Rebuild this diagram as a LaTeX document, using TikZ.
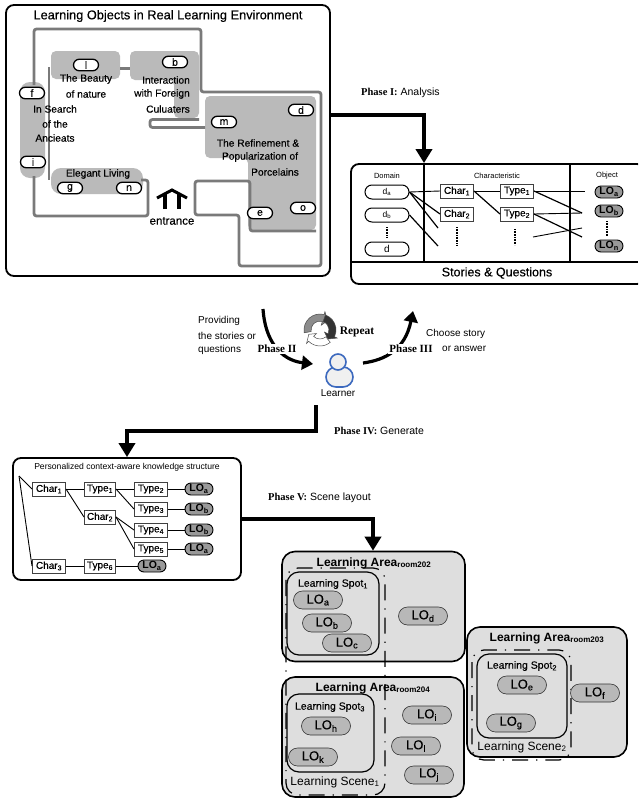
\documentclass[tikz,border=0pt]{standalone}
\usepackage{fontspec}
\setmainfont{Liberation Sans}
\newfontfamily\phfont{Liberation Serif}
\newfontfamily\hvf[FakeBold=0.35]{Liberation Sans}
\usetikzlibrary{arrows.meta,shapes.misc,calc}
\newcommand{\sbs}[1]{\textsubscript{#1}}
\newcommand{\fsz}[1]{\fontsize{#1}{#1}\selectfont}
\definecolor{lrnblue}{RGB}{60,105,190}
\tikzset{
 panel/.style={draw=black,line width=1.8pt,fill=white,rounded corners=8pt,inner sep=0pt},
 wall/.style={draw=black!52,line width=2.8pt,rounded corners=2.5pt},
 zone/.style={fill=black!27,rounded corners=5pt},
 tag/.style={rounded rectangle,draw=black,line width=1.3pt,fill=white,minimum width=25pt,minimum height=11.5pt,inner sep=0pt,font=\hvf\fsz{10.5}},
 lbl/.style={inner sep=0pt,font=\hvf\fsz{10.2}},
 dpill/.style={rounded rectangle,draw=black,line width=1pt,fill=white,minimum width=44pt,minimum height=14pt,inner sep=0pt,font=\fsz{8.5}},
 cbox/.style={draw=black!75,line width=1pt,fill=white,minimum width=33pt,minimum height=14pt,inner sep=0pt,font=\hvf\fsz{10}},
 lopill/.style={rounded rectangle,draw=black,line width=.9pt,fill=black!40,minimum width=28pt,minimum height=12pt,inner sep=0pt,font=\bfseries\fsz{10.5}},
 wire/.style={draw=black,line width=.9pt},
 fat/.style={draw=black,line width=3.8pt,-{Triangle[length=14pt,width=16pt]}},
 area/.style={draw=black,line width=1.6pt,fill=black!13,rounded corners=13pt},
 spot/.style={draw=black,line width=1.2pt,rounded corners=12pt},
 scene/.style={draw=black,line width=1.2pt,rounded corners=12pt,dash pattern=on 16pt off 8pt on 1.2pt off 8pt},
 lo/.style={rounded rectangle,draw=black!80,line width=.6pt,fill=black!28,minimum width=49pt,minimum height=18pt,inner sep=0pt,font=\hvf\fsz{13}},
 phase/.style={inner sep=0pt,anchor=west,font=\fsz{10.5}},
 small/.style={inner sep=0pt,font=\fsz{10}},
 dots/.style={draw=black,line width=1.3pt,dash pattern=on .8pt off .8pt},
}
\begin{document}
\begin{tikzpicture}[x=1pt,y=1pt,yscale=-1]
\useasboundingbox (0,0) rectangle (638,798);
\clip (0,0) rectangle (638,798);
\fill[white] (0,0) rectangle (638,798);

% ---- top panel
\node[panel,minimum width=324pt,minimum height=271pt] (topp) at (168,140.5) {};
\node[inner sep=0pt,font=\hvf\fsz{12.8}] (title) at (168,16) {Learning Objects in Real Learning Environment};
\fill[zone] (51,51) rectangle (120,79);
\fill[zone] (130,51) -- (199,51) -- (199,118) -- (174,118) -- (174,80) -- (130,80) -- cycle;
\fill[zone] (205,96) -- (316,96) -- (316,230) -- (248,230) -- (248,158) -- (205,158) -- cycle;
\fill[zone,rounded corners=10pt] (20,82) rectangle (45,178);
\fill[zone,rounded corners=10pt] (51,168) rectangle (143,194);
\draw[wall] (34,85) -- (34,29) -- (201,29) -- (201,92) -- (321,92) -- (321,266) -- (239,266) -- (239,215) -- (195,215) -- (195,181) -- (250,181) -- (250,231) -- (316,231);
\draw[wall] (34,176) -- (34,216) -- (148,216) -- (148,180) -- (141,180);
\draw[wall] (120,68.5) -- (130,68.5);
\draw[wall,rounded corners=0pt,line width=2.2pt] (49,67) -- (49,180);
\draw[wall] (199,119.5) -- (150,119.5) -- (150,127.5) -- (205,127.5);
\node[tag] (tl) at (86,65) {l};
\node[tag] (tb) at (175,62) {b};
\node[tag] (tf) at (32,93) {f};
\node[tag] (ti) at (33,162) {i};
\node[tag] (tm) at (224,122) {m};
\node[tag] (td) at (301,110) {d};
\node[tag] (to) at (303,208) {o};
\node[tag] (te) at (260,213) {e};
\node[tag] (tg) at (70,188) {g};
\node[tag] (tn) at (129,188) {n};
\node[lbl] (b1) at (86,79) {The Beauty};
\node[lbl] (b2) at (86,94) {of nature};
\node[lbl] (c1) at (166,80) {Interaction};
\node[lbl] (c2) at (162,94) {with Foreign};
\node[lbl] (c3) at (168,109) {Culuaters};
\node[lbl] (s1) at (55,109) {In Search};
\node[lbl] (s2) at (55,124) {of the};
\node[lbl] (s3) at (55,138) {Ancieats};
\node[lbl] (r1) at (258,143) {The Refinement \&};
\node[lbl] (r2) at (260,157) {Popularization of};
\node[lbl] (r3) at (275,172) {Porcelains};
\node[lbl] (el) at (98,174) {Elegant Living};
\node[lbl,font=\hvf\fsz{11.5}] (ent) at (172,221) {entrance};
\draw[line width=3.4pt] (165,209) -- (165,194);
\draw[line width=3.4pt] (179,209) -- (179,194);
\draw[line width=3pt] (157,198) -- (172,190) -- (187,198);

% ---- knowledge panel
\node[panel,minimum width=294pt,minimum height=120pt] (kb) at (498,224) {};
\draw[line width=1.5pt] (351,262) -- (638,262);
\draw[line width=1.5pt] (424,164) -- (424,262);
\draw[line width=1.5pt] (570,164) -- (570,262);
\node[small,font=\fsz{7.5}] (hd) at (387,176) {Domain};
\node[small,font=\fsz{7.5}] (hc) at (497,176) {Characteristic};
\node[small,font=\fsz{7.5}] (ho) at (607,176) {Object};
\node[small,font=\hvf\fsz{12.5}] (sq) at (497,273) {Stories \& Questions};
\node[dpill] (da) at (387,192) {d\sbs{a}};
\node[dpill] (db) at (387,215) {d\sbs{b}};
\node[dpill,font=\fsz{10}] (dd) at (387,249) {d};
\node[cbox] (kc1) at (457,191) {Char\sbs{1}};
\node[cbox] (kc2) at (457,214) {Char\sbs{2}};
\node[cbox] (kt1) at (517,191) {Type\sbs{1}};
\node[cbox] (kt2) at (517,214) {Type\sbs{2}};
\node[lopill] (ka) at (609,192) {LO\sbs{a}};
\node[lopill] (kb2) at (609,211) {LO\sbs{b}};
\node[lopill] (kn) at (609,246) {LO\sbs{n}};
\coordinate (e1) at (438,228);
\coordinate (e2) at (438,246);
\coordinate (e3) at (582,213);
\coordinate (e4) at (582,237);
\coordinate (e5) at (533,237);
\coordinate (e6) at (582,228);
\coordinate (e7) at (585,191);
\draw[wire] (da.east) -- (kc1.west);
\draw[wire,line width=1.2pt] (da.east) -- (kc2.west);
\draw[wire,line width=1.2pt] (da.east) -- (e1);
\draw[wire,line width=1.2pt] (db.east) -- (e2);
\draw[wire] (kc1.east) -- (kt1.west);
\draw[wire,line width=1.2pt] (kc1.east) -- (kt2.west);
\draw[wire] (kt1.east) -- (e7);
\draw[wire,line width=1.2pt] (kt1.east) -- (e3);
\draw[wire] (kt2.east) -- (e3);
\draw[wire,line width=1.2pt] (kt2.east) -- (e4);
\draw[wire] (e5) -- (e6);
\draw[dots] (387,227) -- (387,237);
\draw[dots] (457,227) -- (457,245);
\draw[dots] (515,229) -- (515,245);
\draw[dots] (607,221) -- (607,236);

% ---- phase I
\coordinate (p1) at (424,115);
\draw[fat] (topp.east |- p1) -- (p1) -- (kb.north -| p1);
\node[phase] (ph1) at (361,93) {{\phfont\bfseries Phase I:} Analysis};

% ---- middle
\coordinate (rc) at (320,330);
\foreach \a/\b/\c in {170/285/black!45, 290/385/black!80, 50/135/white}{
 \filldraw[fill=\c,draw=black!70,line width=.5pt]
  ([shift={(\a:16)}]rc) arc[start angle=\a,end angle=\b,radius=16]
  -- ([shift={(\b:19)}]rc) -- ([shift={(\b+24:12)}]rc) -- ([shift={(\b:5)}]rc) -- ([shift={(\b:9)}]rc)
  arc[start angle=\b,end angle=\a,radius=9] -- cycle;
}
\node[inner sep=0pt,font=\phfont\bfseries\fsz{11.5}] (rep) at (357,332) {Repeat};
\node[rounded rectangle,draw=lrnblue,line width=1.6pt,fill=black!6,minimum width=27pt,minimum height=20pt,inner sep=0pt] (body) at (339.5,377) {};
\node[circle,draw=lrnblue,line width=1.6pt,fill=black!6,minimum size=16pt,inner sep=0pt] (head) at (338,362) {};
\node[small] (lrn) at (338,393) {Learner};
\coordinate (c2a) at (263,309);
\coordinate (c2b) at (313,364);
\coordinate (c3a) at (363,363);
\coordinate (c3b) at (413,311);
\draw[draw=black,line width=3.2pt,-{Triangle[length=11pt,width=14pt]}] (c2a) .. controls (265,340) and (280,360) .. (c2b);
\draw[draw=black,line width=3.2pt,-{Triangle[length=11pt,width=14pt]}] (c3a) .. controls (385,360) and (405,350) .. (c3b);
\node[fill=white,inner sep=1.5pt,font=\phfont\bfseries\fsz{11}] (ph2) at (277,349) {Phase II};
\node[fill=white,inner sep=1.5pt,font=\phfont\bfseries\fsz{11}] (ph3) at (411,349) {Phase III};
\node[small,anchor=west] (pv1) at (198,321) {Providing};
\node[small,anchor=west] (pv2) at (198,336) {the stories or};
\node[small,anchor=west] (pv3) at (198,350) {questions};
\node[small,anchor=west] (ch1) at (426,334) {Choose story};
\node[small,anchor=west] (ch2) at (442,349) {or answer};

% ---- personalized
\node[panel,minimum width=228pt,minimum height=122pt] (pk) at (127,519) {};
\node[inner sep=0pt,font=\fsz{8.6}] (pkt) at (127,467) {Personalized context-aware knowledge structure};
\coordinate (root) at (19,476);
\node[cbox,minimum width=33pt] (c1n) at (49,489) {Char\sbs{1}};
\node[cbox,minimum width=31pt] (t1n) at (100,489) {Type\sbs{1}};
\node[cbox] (t2n) at (151,489) {Type\sbs{2}};
\node[lopill] (l1n) at (199,489) {LO\sbs{a}};
\node[cbox] (t3n) at (151,509) {Type\sbs{3}};
\node[lopill] (l2n) at (199,509) {LO\sbs{b}};
\node[cbox,minimum width=31pt] (c2n) at (100,517) {Char\sbs{2}};
\node[cbox] (t4n) at (151,530) {Type\sbs{4}};
\node[lopill] (l3n) at (199,530) {LO\sbs{b}};
\node[cbox] (t5n) at (151,549) {Type\sbs{5}};
\node[lopill] (l4n) at (199,549) {LO\sbs{a}};
\node[cbox] (c3n) at (49,566) {Char\sbs{3}};
\node[cbox,minimum width=31pt] (t6n) at (100,566) {Type\sbs{6}};
\node[lopill] (l5n) at (152,566) {LO\sbs{a}};
\draw[wire] (root) -- (c1n.west);
\draw[wire] (root) -- (c3n.west);
\draw[wire] (c1n.east) -- (t1n.west);
\draw[wire] (c1n.east) -- (c2n.west);
\draw[wire] (t1n.east) -- (t2n.west);
\draw[wire] (t1n.east) -- (t3n.west);
\draw[wire] (t2n.east) -- (l1n.west);
\draw[wire] (t3n.east) -- (l2n.west);
\draw[wire] (c2n.east) -- (t4n.west);
\draw[wire] (c2n.east) -- (t5n.west);
\draw[wire] (t4n.east) -- (l3n.west);
\draw[wire] (t5n.east) -- (l4n.west);
\draw[wire] (c3n.east) -- (t6n.west);
\draw[wire] (t6n.east) -- (l5n.west);

% ---- phase IV
\coordinate (p4a) at (316,405);
\coordinate (p4b) at (127,431);
\draw[fat] (p4a) -- (p4a |- p4b) -- (p4b) -- (pk.north -| p4b);
\node[phase] (ph4) at (334,431) {{\phfont\bfseries Phase IV:} Generate};

% ---- areas
\node[area,minimum width=183pt,minimum height=110pt] (a202) at (373.5,606.5) {};
\node[area,minimum width=182pt,minimum height=120pt] (a204) at (373,737) {};
\node[area,minimum width=160pt,minimum height=130pt] (a203) at (547,692) {};
\draw[scene] (286,568) rectangle (385,795);
\draw[scene] (472,650) rectangle (571,760);
\node[spot,minimum width=92pt,minimum height=83pt] (sp1) at (333,613.5) {};
\node[spot,minimum width=87pt,minimum height=78pt] (sp3) at (330.5,733) {};
\node[spot,minimum width=90pt,minimum height=84pt] (sp2) at (522,696) {};
\node[inner sep=0pt,font=\bfseries\fsz{12}] (a1t) at (374,563) {Learning Area\sbs{room202}};
\node[inner sep=0pt,font=\bfseries\fsz{12}] (a4t) at (373,688) {Learning Area\sbs{room204}};
\node[inner sep=0pt,font=\bfseries\fsz{12}] (a3t) at (547,638) {Learning Area\sbs{room203}};
\node[inner sep=0pt,font=\hvf\fsz{10.5}] (s1t) at (333,584) {Learning Spot\sbs{1}};
\node[inner sep=0pt,font=\hvf\fsz{10.5}] (s3t) at (330,707) {Learning Spot\sbs{3}};
\node[inner sep=0pt,font=\hvf\fsz{10.5}] (s2t) at (522,666) {Learning Spot\sbs{2}};
\node[inner sep=0pt,font=\fsz{12}] (sc1) at (335,782) {Learning Scene\sbs{1}};
\node[inner sep=0pt,font=\fsz{12}] (sc2) at (522,747) {Learning Scene\sbs{2}};
\node[lo] (L3) at (318,600) {LO\sbs{a}};
\node[lo] (Lb) at (327,623) {LO\sbs{b}};
\node[lo] (Lc) at (347,643) {LO\sbs{c}};
\node[lo] (Ld) at (423,616) {LO\sbs{d}};
\node[lo] (Lh) at (326,726) {LO\sbs{h}};
\node[lo] (Lk) at (313,757) {LO\sbs{k}};
\node[lo] (Li) at (427,715) {LO\sbs{i}};
\node[lo] (Ll) at (416,746) {LO\sbs{l}};
\node[lo] (Lj) at (429,775) {LO\sbs{j}};
\node[lo] (Le) at (522,685) {LO\sbs{e}};
\node[lo] (Lg) at (511,723) {LO\sbs{g}};
\node[lo] (Lf) at (595,693) {LO\sbs{f}};

% ---- phase V
\coordinate (p5) at (373,519);
\draw[fat] (pk.east |- p5) -- (p5) -- (a202.north -| p5);
\node[phase] (ph5) at (268,498) {{\phfont\bfseries Phase V:} Scene layout};
\end{tikzpicture}
\end{document}
